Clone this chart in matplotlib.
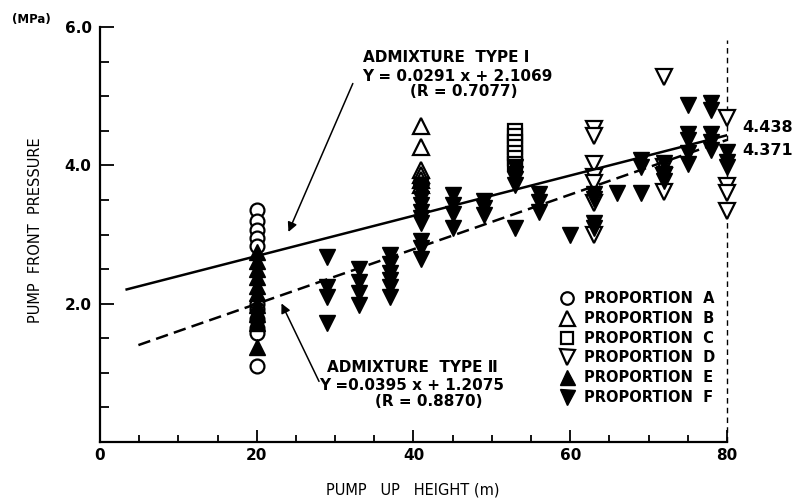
import numpy as np
import matplotlib
matplotlib.use('Agg')
from matplotlib import pyplot as plt
from matplotlib.ticker import FixedLocator, MultipleLocator

# proportion A (open circles)
a_x = [20] * 11
a_y = [3.35, 3.2, 3.07, 2.95, 2.83, 2.0, 1.92, 1.78, 1.65, 1.58, 1.1]

# proportion B (open up triangles)
b_x = [41] * 6
b_y = [4.57, 4.26, 3.93, 3.86, 3.79, 3.72]

# proportion C (open squares)
c_x = [53] * 7
c_y = [4.5, 4.42, 4.34, 4.26, 4.18, 4.1, 4.02]

# proportion D (open down triangles)
d_x = [63, 63, 63, 63, 63, 63, 63, 72, 72, 72, 72, 80, 80, 80, 80]
d_y = [4.53, 4.43, 4.02, 3.83, 3.75, 3.45, 2.99, 5.27, 3.97, 3.85, 3.61,
       4.68, 3.70, 3.60, 3.34]

# proportion E (filled up triangles)
e_x = [20] * 10
e_y = [2.75, 2.62, 2.5, 2.38, 2.25, 2.15, 1.98, 1.85, 1.72, 1.38]

# proportion F (filled down triangles)
f_x = ([29] * 4 + [33] * 4 + [37] * 6 + [41] * 10 + [45] * 4 + [49] * 3
       + [53] * 5 + [56] * 3 + [60] + [63] * 4 + [66] + [69] * 3 + [72] * 3
       + [75] * 5 + [78] * 5 + [80] * 3)
f_y = ([2.67, 2.24, 2.09, 1.72]
       + [2.5, 2.32, 2.15, 1.98]
       + [2.7, 2.58, 2.45, 2.34, 2.24, 2.1]
       + [3.72, 3.62, 3.52, 3.42, 3.33, 3.24, 3.16, 2.9, 2.8, 2.65]
       + [3.57, 3.42, 3.3, 3.1]
       + [3.49, 3.38, 3.28]
       + [3.97, 3.88, 3.8, 3.72, 3.1]
       + [3.59, 3.47, 3.32]
       + [2.99]
       + [3.59, 3.52, 3.16, 3.1]
       + [3.6]
       + [4.08, 3.97, 3.6]
       + [4.03, 3.88, 3.77]
       + [4.87, 4.46, 4.36, 4.18, 4.02]
       + [4.9, 4.8, 4.46, 4.34, 4.22]
       + [4.2, 4.05, 3.97])

# regression lines: (slope, intercept, x start)
fit1 = (0.0291, 2.1069, 3.4)
fit2 = (0.0395, 1.2075, 4.9)

x_ticks = [0, 20, 40, 60, 80]
y_ticks = [2, 4, 6]
y_tick_labels = ['2.0', '4.0', '6.0']

plt.rcParams['font.family'] = ['DejaVu Sans']

fig = plt.figure(figsize=(8.04, 5.01), dpi=100)
ax = fig.add_axes([100 / 804, 1 - 442 / 501, 627 / 804, 415 / 501])

mk = dict(linestyle='none', clip_on=False, zorder=3)
ax.plot(a_x, a_y, marker='o', ms=10, mfc='white', mec='black', mew=1.6,
        label='PROPORTION  A', **mk)
ax.plot(b_x, b_y, marker='^', ms=12, mfc='white', mec='black', mew=1.6,
        label='PROPORTION  B', **mk)
ax.plot(c_x, c_y, marker='s', ms=9.5, mfc='white', mec='black', mew=1.6,
        label='PROPORTION  C', **mk)
ax.plot(d_x, d_y, marker='v', ms=12, mfc='white', mec='black', mew=1.6,
        label='PROPORTION  D', **mk)
ax.plot(e_x, e_y, marker='^', ms=12, color='black', label='PROPORTION  E', **mk)
ax.plot(f_x, f_y, marker='v', ms=12, color='black', label='PROPORTION  F', **mk)

for (k, b, x0), ls in [(fit1, '-'), (fit2, (0, (5, 2.5)))]:
    xs = np.array([x0, 80])
    ax.plot(xs, k * xs + b, color='black', lw=1.8, linestyle=ls, zorder=4)

ax.plot([80, 80], [0, 5.81], color='black', lw=1, linestyle=(0, (4, 3)),
        clip_on=False, zorder=2)

ax.set_xlim(0, 80)
ax.set_ylim(0, 6)
for s in ['top', 'right']:
    ax.spines[s].set_visible(False)
for s in ['left', 'bottom']:
    ax.spines[s].set_linewidth(1.6)

ax.xaxis.set_major_locator(FixedLocator(x_ticks))
ax.xaxis.set_minor_locator(MultipleLocator(5))
ax.yaxis.set_major_locator(FixedLocator(y_ticks))
ax.yaxis.set_minor_locator(MultipleLocator(0.5))
ax.set_yticklabels(y_tick_labels)
ax.tick_params(which='both', direction='in', width=1.3, labelsize=11)
ax.tick_params(axis='y', which='major', length=10, pad=6)
ax.tick_params(axis='y', which='minor', length=6.5)
ax.tick_params(axis='x', which='major', length=9, pad=4)
ax.tick_params(axis='x', which='minor', length=5)
for lab in ax.get_xticklabels() + ax.get_yticklabels():
    lab.set_fontweight('bold')

fig.text(12 / 804, 1 - 20 / 501, '(MPa)', fontsize=8.5, va='center', ha='left',
         fontweight='bold')
fig.text(36 / 804, 1 - 230 / 501, 'PUMP  FRONT  PRESSURE', rotation=90,
         fontsize=10.5, ha='center', va='center')
fig.text(413 / 804, 1 - 490 / 501, 'PUMP   UP   HEIGHT (m)', fontsize=10.5,
         ha='center', va='center')

txt = dict(fontsize=11, va='center', ha='left', fontweight='bold')
ax.text(33.5, 5.56, 'ADMIXTURE  TYPE Ⅰ', **txt)
ax.text(33.5, 5.29, 'Y = 0.0291 x + 2.1069', **txt)
ax.text(39.6, 5.07, '(R = 0.7077)', **txt)
ax.annotate('', xy=(23.9, 3.0), xytext=(32.4, 5.22),
            arrowprops=dict(arrowstyle='-|>', color='black', lw=1.1,
                            mutation_scale=14))

ax.text(29.0, 1.08, 'ADMIXTURE  TYPE Ⅱ', **txt)
ax.text(27.9, 0.82, 'Y =0.0395 x + 1.2075', **txt)
ax.text(35.1, 0.58, '(R = 0.8870)', **txt)
ax.annotate('', xy=(23.0, 2.04), xytext=(28.1, 0.84),
            arrowprops=dict(arrowstyle='-|>', color='black', lw=1.1,
                            mutation_scale=14))

ax.text(82.0, 4.54, '4.438', fontsize=11.5, va='center', ha='left',
        fontweight='bold')
ax.text(82.0, 4.22, '4.371', fontsize=11.5, va='center', ha='left',
        fontweight='bold')

ax.legend(loc='upper left', bbox_to_anchor=(552 / 804, 1 - 284 / 501),
          bbox_transform=fig.transFigure, frameon=False,
          prop=dict(size=10.5, weight='bold'), borderpad=0, handlelength=1.0,
          handletextpad=0.7, labelspacing=0.32, markerscale=0.9)

fig.savefig('out.png', dpi=100)
